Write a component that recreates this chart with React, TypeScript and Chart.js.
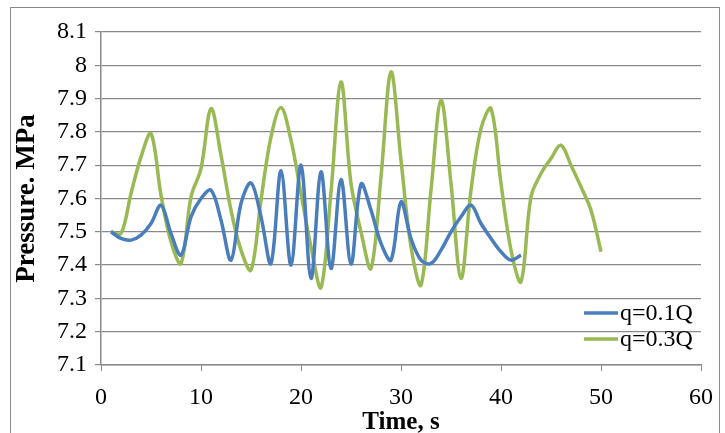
import React, { useEffect, useRef } from "react";
import { Chart, registerables } from "chart.js";

Chart.register(...registerables);

const timeBlue = [1, 2, 3, 4, 5, 6, 7, 8, 9, 10, 11, 12, 13, 14, 15, 16, 17, 18, 19, 20, 21, 22, 23, 24, 25, 26, 27, 28, 29, 30, 31, 32, 33, 34, 35, 36, 37, 38, 39, 40, 41, 42];
const pressureBlue = [7.5, 7.48, 7.475, 7.49, 7.525, 7.58, 7.495, 7.43, 7.545, 7.6, 7.625, 7.535, 7.415, 7.585, 7.647, 7.545, 7.405, 7.683, 7.4, 7.7, 7.36, 7.68, 7.39, 7.657, 7.403, 7.643, 7.565, 7.465, 7.415, 7.59, 7.48, 7.415, 7.405, 7.445, 7.5, 7.545, 7.58, 7.525, 7.48, 7.44, 7.415, 7.43];

const timeGreen = [1, 2, 3, 4, 5, 6, 7, 8, 9, 10, 11, 12, 13, 14, 15, 16, 17, 18, 19, 20, 21, 22, 23, 24, 25, 26, 27, 28, 29, 30, 31, 32, 33, 34, 35, 36, 37, 38, 39, 40, 41, 42, 43, 44, 45, 46, 47, 48, 49, 50];
const pressureGreen = [7.5, 7.495, 7.615, 7.725, 7.795, 7.61, 7.47, 7.405, 7.605, 7.69, 7.87, 7.73, 7.565, 7.445, 7.385, 7.595, 7.785, 7.873, 7.775, 7.615, 7.455, 7.333, 7.62, 7.95, 7.645, 7.5, 7.39, 7.665, 7.98, 7.715, 7.455, 7.34, 7.625, 7.895, 7.645, 7.36, 7.625, 7.81, 7.87, 7.645, 7.445, 7.35, 7.605, 7.675, 7.72, 7.76, 7.7, 7.635, 7.565, 7.44];

const seriesLabels = ["q=0.1Q", "q=0.3Q"];
const xTitle = "Time, s";
const yTitle = "Pressure. MPa";

const FONT = "'Liberation Serif', 'Times New Roman', serif";
const GRID = "#8a8a8a";

const framePlugin = {
  id: "frame",
  beforeDraw(chart: any) {
    const ctx = chart.ctx;
    ctx.save();
    ctx.fillStyle = "#ffffff";
    ctx.fillRect(0, 0, chart.width, chart.height);
    ctx.strokeStyle = "#8a8a8a";
    ctx.lineWidth = 1;
    ctx.strokeRect(10.5, 7.5, 709, 440);
    ctx.restore();
  },
};

const legendPlugin = {
  id: "customLegend",
  afterDraw(chart: any) {
    const ctx = chart.ctx;
    const area = chart.chartArea;
    ctx.save();
    chart.data.datasets.forEach((ds: any, i: number) => {
      const y = area.bottom - 52 + i * 26;
      const x0 = area.right - 117;
      ctx.strokeStyle = ds.borderColor;
      ctx.lineWidth = 3.5;
      ctx.beginPath();
      ctx.moveTo(x0, y);
      ctx.lineTo(x0 + 34, y);
      ctx.stroke();
      ctx.fillStyle = "#000";
      ctx.font = `24px ${FONT}`;
      ctx.textBaseline = "middle";
      ctx.textAlign = "left";
      ctx.fillText(ds.label, x0 + 36, y + 1);
    });
    ctx.restore();
  },
};

export default function App() {
  const ref = useRef<HTMLCanvasElement | null>(null);

  useEffect(() => {
    if (!ref.current) return;
    const chart = new Chart(ref.current, {
      type: "line",
      data: {
        datasets: [
          {
            label: seriesLabels[0],
            data: timeBlue.map((t, i) => ({ x: t, y: pressureBlue[i] })),
            borderColor: "#4a7ebb",
            borderWidth: 3.5,
            pointRadius: 0,
            tension: 0.35,
            fill: false,
          },
          {
            label: seriesLabels[1],
            data: timeGreen.map((t, i) => ({ x: t, y: pressureGreen[i] })),
            borderColor: "#98b954",
            borderWidth: 3.5,
            pointRadius: 0,
            tension: 0.35,
            fill: false,
          },
        ],
      },
      options: {
        animation: false,
        responsive: false,
        maintainAspectRatio: false,
        layout: { padding: { top: 32, right: 24, bottom: 0, left: 0 } },
        plugins: {
          legend: { display: false },
          tooltip: { enabled: false },
        },
        scales: {
          x: {
            type: "linear",
            min: 0,
            max: 60,
            ticks: {
              stepSize: 10,
              color: "#000",
              font: { family: FONT, size: 24 },
              padding: 12,
            },
            grid: {
              drawOnChartArea: false,
              drawTicks: true,
              tickLength: 6,
              color: GRID,
            },
            border: { color: GRID, width: 1.5 },
            title: {
              display: true,
              text: xTitle,
              color: "#000",
              font: { family: FONT, size: 25, weight: "bold" },
              padding: { top: 0, bottom: -5 },
            },
            afterFit(scale: any) {
              scale.height = 68;
            },
          },
          y: {
            min: 7.1,
            max: 8.1,
            ticks: {
              stepSize: 0.1,
              color: "#000",
              font: { family: FONT, size: 24 },
              padding: 8,
              callback: (v: any) => String(Number(Number(v).toFixed(1))),
            },
            grid: {
              color: GRID,
              lineWidth: 1.2,
              drawTicks: true,
              tickLength: 6,
            },
            border: { color: GRID, width: 1.5 },
            title: {
              display: true,
              text: yTitle,
              color: "#000",
              font: { family: FONT, size: 27, weight: "bold" },
              padding: { top: 11, bottom: 0 },
            },
            afterFit(scale: any) {
              scale.width = 101;
            },
          },
        },
      },
      plugins: [framePlugin, legendPlugin],
    });
    return () => chart.destroy();
  }, []);

  return (
    <div style={{ position: "fixed", left: 0, top: 0, width: 725, height: 433 }}>
      <canvas ref={ref} width={725} height={433} style={{ width: 725, height: 433 }} />
    </div>
  );
}
